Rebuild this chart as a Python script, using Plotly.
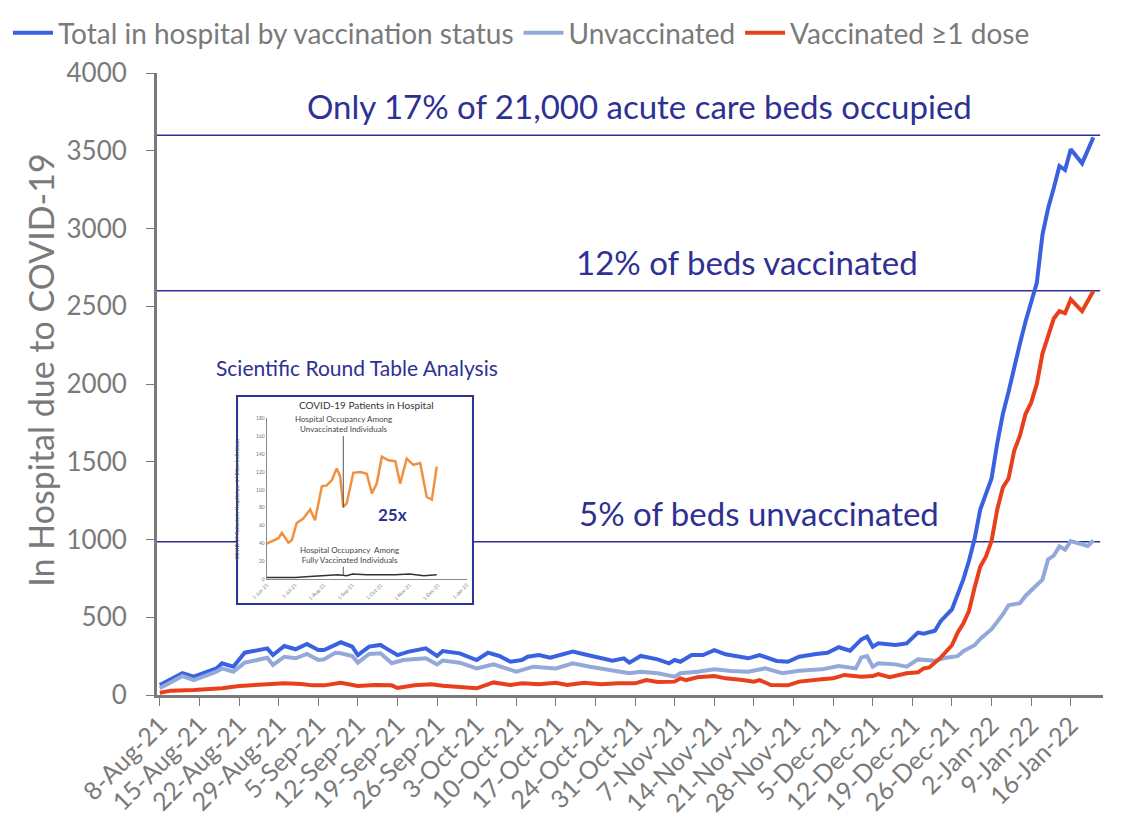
import pandas as pd
import plotly.graph_objects as go

# ─── Data (day offsets from 8-Aug-21) ────────────────────────────────────────
START = pd.Timestamp("2021-08-08")

total_days = [0, 4, 6, 10, 11, 13, 15, 19, 20, 22, 24, 26, 28, 29, 31, 32, 34, 35,
              37, 39, 40, 42, 44, 45, 47, 49, 50, 53, 56, 58, 60, 62, 64, 65, 67, 69,
              71, 73, 75, 78, 80, 82, 83, 85, 88, 90, 91, 92, 94, 96, 98, 100, 102,
              104, 106, 109, 111, 113, 116, 118, 120, 122, 124, 125, 126, 127, 130,
              132, 134, 135, 137, 138, 140, 141, 142, 143, 144, 145, 146, 147, 148,
              149, 150, 151, 152, 153, 154, 155, 156, 157, 158, 159, 160, 161, 163, 165]
total_vals = [64, 140, 118, 171, 204, 182, 272, 300, 257, 315, 294, 328, 289, 289, 322,
              339, 311, 257, 311, 322, 300, 257, 279, 285, 300, 251, 283, 268, 225, 272,
              251, 214, 225, 246, 257, 240, 257, 279, 262, 240, 221, 236, 208, 251, 229,
              204, 225, 214, 257, 257, 289, 262, 250, 236, 257, 219, 214, 246, 264, 272,
              307, 285, 358, 375, 311, 332, 322, 332, 401, 394, 413, 475, 550, 640, 742,
              862, 1003, 1192, 1286, 1392, 1617, 1807, 1948, 2116, 2257, 2400, 2520,
              2650, 2960, 3130, 3260, 3402, 3376, 3509, 3419, 3586]

unvax_days = [0, 4, 6, 10, 11, 13, 15, 19, 20, 22, 24, 26, 28, 29, 31, 32, 34, 35, 37,
              39, 41, 43, 47, 49, 50, 53, 56, 59, 63, 66, 70, 73, 76, 81, 83, 85, 88,
              91, 92, 95, 98, 101, 104, 107, 110, 113, 117, 120, 123, 124, 125, 126,
              127, 130, 132, 134, 137, 139, 141, 142, 144, 145, 147, 149, 150, 152, 153,
              155, 156, 157, 158, 159, 160, 161, 164, 165]
unvax_vals = [43, 122, 96, 150, 171, 150, 208, 240, 193, 246, 236, 264, 225, 229, 272,
              268, 251, 208, 264, 268, 204, 225, 236, 197, 221, 208, 171, 197, 150, 182,
              171, 204, 182, 156, 140, 150, 140, 118, 140, 150, 165, 155, 150, 171, 140,
              156, 165, 186, 171, 242, 251, 182, 204, 197, 182, 229, 221, 240, 250, 282,
              320, 360, 423, 518, 577, 590, 637, 707, 742, 873, 896, 955, 935, 990, 958,
              995]

vax_days = [0, 2, 6, 11, 14, 18, 22, 25, 27, 29, 32, 35, 38, 41, 42, 45, 48, 50, 53, 56,
            59, 62, 64, 67, 70, 72, 75, 78, 81, 84, 86, 88, 91, 92, 93, 95, 98, 100, 103,
            105, 106, 108, 111, 113, 117, 119, 121, 124, 126, 127, 129, 132, 134, 135,
            136, 138, 140, 141, 142, 143, 144, 145, 146, 147, 148, 149, 150, 151, 152,
            153, 154, 155, 156, 158, 159, 160, 161, 163, 165]
vax_vals = [15, 28, 32, 43, 58, 69, 75, 71, 62, 62, 79, 58, 64, 62, 45, 62, 69, 60, 49,
            43, 81, 64, 75, 69, 79, 64, 79, 69, 75, 75, 96, 84, 86, 107, 96, 114, 122,
            107, 96, 86, 96, 64, 62, 86, 101, 107, 129, 118, 122, 135, 114, 140, 146, 171,
            177, 240, 320, 400, 460, 540, 690, 825, 890, 990, 1192, 1334, 1392, 1570,
            1666, 1807, 1880, 2000, 2196, 2421, 2468, 2455, 2544, 2468, 2598]

# reference lines (beds) and their captions
ref_levels = [3600, 2600, 985]
ref_labels = ["Only 17% of 21,000 acute care beds occupied",
              "12% of beds vaccinated",
              "5% of beds unvaccinated"]

# inset: "COVID-19 Patients in Hospital" (per 1 million individuals)
inset_x = [0, 0.41, 0.53, 0.76, 0.88, 1.05, 1.28, 1.52, 1.69, 1.93, 2.1, 2.28, 2.45,
           2.57, 2.68, 2.8, 3.03, 3.27, 3.5, 3.68, 3.85, 4.03, 4.26, 4.5, 4.67, 4.9,
           5.13, 5.37, 5.6, 5.78, 5.95]
inset_unvax = [40, 46, 52, 41, 44, 63, 68, 78, 66, 104, 105, 111, 124, 115, 81, 85,
               119, 120, 118, 96, 107, 137, 133, 132, 107, 135, 128, 130, 92, 89, 126]
inset_vax_x = [0, 1, 1.5, 2, 2.5, 2.8, 3, 3.5, 4, 4.5, 5, 5.5, 5.95]
inset_vax = [2, 2, 3, 4, 5, 4, 6, 5, 5, 5, 6, 4, 5]
inset_ticks = ["1-Jun-21", "1-Jul-21", "1-Aug-21", "1-Sep-21", "1-Oct-21",
               "1-Nov-21", "1-Dec-21", "1-Jan-22"]

# ─── Styling ─────────────────────────────────────────────────────────────────
FONT = "Lato, sans-serif"
GRAY = "#7a7a7a"
NAVY = "#2e3192"
COLORS = {"total": "#3a62e0", "unvax": "#93a9d9", "vax": "#e8401c"}


def to_dates(days):
    return START + pd.to_timedelta(days, unit="D")


fig = go.Figure()
fig.add_trace(go.Scatter(x=to_dates(total_days), y=total_vals, mode="lines",
                         name="Total in hospital by vaccination status",
                         line=dict(color=COLORS["total"], width=4)))
fig.add_trace(go.Scatter(x=to_dates(unvax_days), y=unvax_vals, mode="lines",
                         name="Unvaccinated",
                         line=dict(color=COLORS["unvax"], width=4)))
fig.add_trace(go.Scatter(x=to_dates(vax_days), y=vax_vals, mode="lines",
                         name="Vaccinated ≥1 dose",
                         line=dict(color=COLORS["vax"], width=4)))

# inset chart
fig.add_trace(go.Scatter(x=inset_x, y=inset_unvax, mode="lines", xaxis="x2", yaxis="y2",
                         line=dict(color="#f0913f", width=2.5), showlegend=False))
fig.add_trace(go.Scatter(x=inset_vax_x, y=inset_vax, mode="lines", xaxis="x2", yaxis="y2",
                         line=dict(color="#333333", width=1.5), showlegend=False))

# horizontal bed lines
for lvl in ref_levels:
    fig.add_shape(type="line", xref="paper", yref="y", x0=0, x1=0.997, y0=lvl, y1=lvl,
                  line=dict(color=NAVY, width=1.5), layer="below")

# inset frame (covers the 5% line behind it)
fig.add_shape(type="rect", xref="paper", yref="paper", x0=0.0846, x1=0.334,
              y0=0.1463, y1=0.4807, fillcolor="white",
              line=dict(color=NAVY, width=2), layer="below")
# inset pointer lines
fig.add_shape(type="line", xref="x2", yref="y2", x0=2.68, x1=2.68, y0=80, y1=160,
              line=dict(color="#555555", width=1))
fig.add_shape(type="line", xref="x2", yref="y2", x0=2.68, x1=2.68, y0=5, y1=14,
              line=dict(color="#555555", width=1))

annotations = [
    dict(text=ref_labels[0], x=0.51, y=3600, xref="paper", yref="y", yanchor="bottom",
         yshift=7, showarrow=False, font=dict(size=33, color=NAVY, family=FONT)),
    dict(text=ref_labels[1], x=0.624, y=2600, xref="paper", yref="y", yanchor="bottom",
         yshift=7, showarrow=False, font=dict(size=33, color=NAVY, family=FONT)),
    dict(text=ref_labels[2], x=0.636, y=985, xref="paper", yref="y", yanchor="bottom",
         yshift=7, showarrow=False, font=dict(size=33, color=NAVY, family=FONT)),
    dict(text="Scientific Round Table Analysis", x=0.211, y=0.526, xref="paper",
         yref="paper", xanchor="center", showarrow=False,
         font=dict(size=21, color=NAVY, family=FONT)),
    dict(text="In Hospital due to COVID-19", x=-0.124, y=0.5225, xref="paper",
         yref="paper", xanchor="center", textangle=-90, showarrow=False,
         font=dict(size=34, color=GRAY, family=FONT)),
    dict(text="COVID-19 Patients in Hospital", x=0.5, y=1.03, xref="x2 domain",
         yref="y2 domain", yanchor="bottom", showarrow=False,
         font=dict(size=10, color="#333333", family=FONT)),
    dict(text="Hospital Occupancy Among<br>Unvaccinated Individuals", x=2.68, y=160,
         xref="x2", yref="y2", yanchor="bottom", showarrow=False,
         font=dict(size=8, color="#444444", family=FONT)),
    dict(text="Hospital Occupancy  Among<br>Fully Vaccinated Individuals", x=2.9, y=14,
         xref="x2", yref="y2", yanchor="bottom", showarrow=False,
         font=dict(size=8, color="#444444", family=FONT)),
    dict(text="<b>25x</b>", x=4.4, y=72, xref="x2", yref="y2", showarrow=False,
         font=dict(size=17, color="#2e3192", family=FONT)),
    dict(text="COVID-19 Patients in Hospital per 1 Million Individuals", x=-0.15, y=0.5,
         xref="x2 domain", yref="y2 domain", xanchor="center", textangle=-90,
         showarrow=False, font=dict(size=5, color="#555555", family=FONT)),
]
fig.update_layout(annotations=annotations)

fig.update_layout(
    width=1141, height=822,
    paper_bgcolor="white", plot_bgcolor="white",
    font=dict(family=FONT, color=GRAY),
    margin=dict(l=149, r=46, t=65, b=135, autoexpand=False),
    showlegend=True,
    legend=dict(orientation="h", x=-0.1575, xanchor="left", y=1.1045, yanchor="top",
                font=dict(size=28, color=GRAY, family=FONT),
                itemwidth=40, tracegroupgap=0, bgcolor="rgba(0,0,0,0)"),
    xaxis=dict(
        type="date",
        range=[START - pd.Timedelta(hours=12), START + pd.Timedelta(days=166.7)],
        tick0=START, dtick=7 * 24 * 3600 * 1000, tickformat="%-d-%b-%y",
        tickangle=-45, ticks="outside", ticklen=8, tickcolor=GRAY,
        showline=True, linecolor=GRAY, linewidth=3, showgrid=False, zeroline=False,
        tickfont=dict(size=25, color=GRAY, family=FONT), ticklabelstandoff=-5,
    ),
    yaxis=dict(
        range=[0, 4000], dtick=500, ticks="outside", ticklen=8, tickcolor=GRAY,
        showline=True, linecolor=GRAY, linewidth=3, showgrid=False, zeroline=False,
        tickfont=dict(size=26, color=GRAY, family=FONT), ticklabelstandoff=14,
    ),
    xaxis2=dict(
        domain=[0.116, 0.3274], anchor="y2", range=[0, 7], tickmode="array",
        tickvals=list(range(8)), ticktext=inset_ticks, tickangle=-45,
        tickfont=dict(size=5, color="#777777"), showline=True, linecolor="#888888",
        linewidth=1, showgrid=False, zeroline=False, ticks="",
    ),
    yaxis2=dict(
        domain=[0.186, 0.4449], anchor="x2", range=[0, 180], dtick=20,
        tickfont=dict(size=5, color="#777777"), showline=True, linecolor="#888888",
        linewidth=1, showgrid=False, zeroline=False, ticks="",
    ),
)

fig.write_html("out.html")
